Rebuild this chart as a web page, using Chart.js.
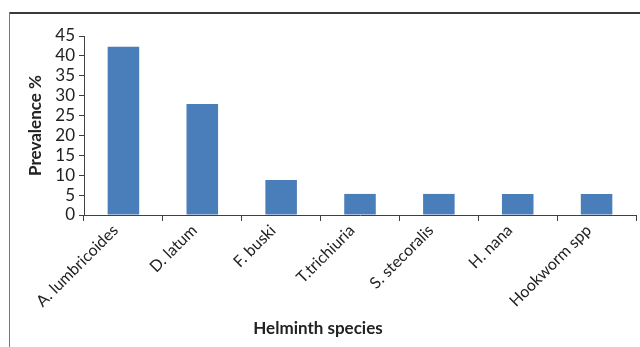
<!DOCTYPE html>
<html lang="en">
<head>
    <meta charset="UTF-8">
    <title>Helminth prevalence</title>
    <script src="https://cdn.jsdelivr.net/npm/chart.js"></script>
    <style>
        html, body { margin: 0; padding: 0; background: #fff; }
        #wrap { width: 640px; height: 347px; position: relative; }
    </style>
</head>
<body>
    <div id="wrap"><canvas id="chart" width="640" height="347"></canvas></div>

    <script>
        const species = ['A. lumbricoides', 'D. latum', 'F. buski', 'T.trichiuria', 'S. stecoralis', 'H. nana', 'Hookworm spp'];
        const prevalence = [42.3, 27.9, 8.8, 5.3, 5.3, 5.3, 5.3];
        const yMax = 45;
        const yStep = 5;

        const axisColor = '#404040';
        const textColor = '#222';

        // outer frame like the original figure box
        const frame = {
            id: 'frame',
            beforeDraw(chart) {
                const ctx = chart.ctx;
                ctx.save();
                ctx.strokeStyle = '#3a3a3a';
                ctx.lineWidth = 2;
                ctx.beginPath();
                ctx.moveTo(9, 13);
                ctx.lineTo(640, 13);
                ctx.stroke();
                ctx.strokeStyle = '#777';
                ctx.lineWidth = 1;
                ctx.beginPath();
                ctx.moveTo(9.5, 12);
                ctx.lineTo(9.5, 347);
                ctx.stroke();
                ctx.restore();
            }
        };

        new Chart(document.getElementById('chart').getContext('2d'), {
            type: 'bar',
            data: {
                labels: species,
                datasets: [{
                    label: 'Prevalence %',
                    data: prevalence,
                    backgroundColor: '#4a7ebb',
                    barPercentage: 0.4,
                    categoryPercentage: 1.0
                }]
            },
            plugins: [frame],
            options: {
                responsive: false,
                animation: false,
                layout: { padding: { top: 36, right: 4, left: 0, bottom: 0 } },
                plugins: {
                    legend: { display: false },
                    tooltip: { enabled: false },
                    // x axis title is centred on the whole figure, so use the chart title at the bottom
                    title: {
                        display: true, position: 'bottom', text: 'Helminth species', color: textColor,
                        font: { family: 'Lato', size: 17, weight: 'bold', lineHeight: 1.2 },
                        padding: { top: 0, bottom: 8 }
                    }
                },
                scales: {
                    x: {
                        grid: { drawOnChartArea: false, drawTicks: true, tickLength: 6, color: axisColor, offset: true },
                        border: { color: axisColor, width: 1 },
                        ticks: {
                            autoSkip: false, minRotation: 45, maxRotation: 45, color: textColor, padding: 0,
                            labelOffset: -8,
                            font: { family: 'Lato', size: 16 }
                        },
                        afterFit(scale) { scale.height = 103.6; }
                    },
                    y: {
                        min: 0, max: yMax,
                        grid: { drawOnChartArea: false, drawTicks: true, tickLength: 5, color: axisColor },
                        border: { color: axisColor, width: 1 },
                        ticks: {
                            autoSkip: false, stepSize: yStep, color: textColor, padding: 4,
                            font: { family: 'Lato', size: 17 }
                        },
                        title: {
                            display: true, text: 'Prevalence %', color: textColor,
                            font: { family: 'Lato', size: 17, weight: 'bold' },
                            padding: { top: 25, bottom: 0 }
                        },
                        afterFit(scale) { scale.width = 84; }
                    }
                }
            }
        });
    </script>
</body>
</html>
